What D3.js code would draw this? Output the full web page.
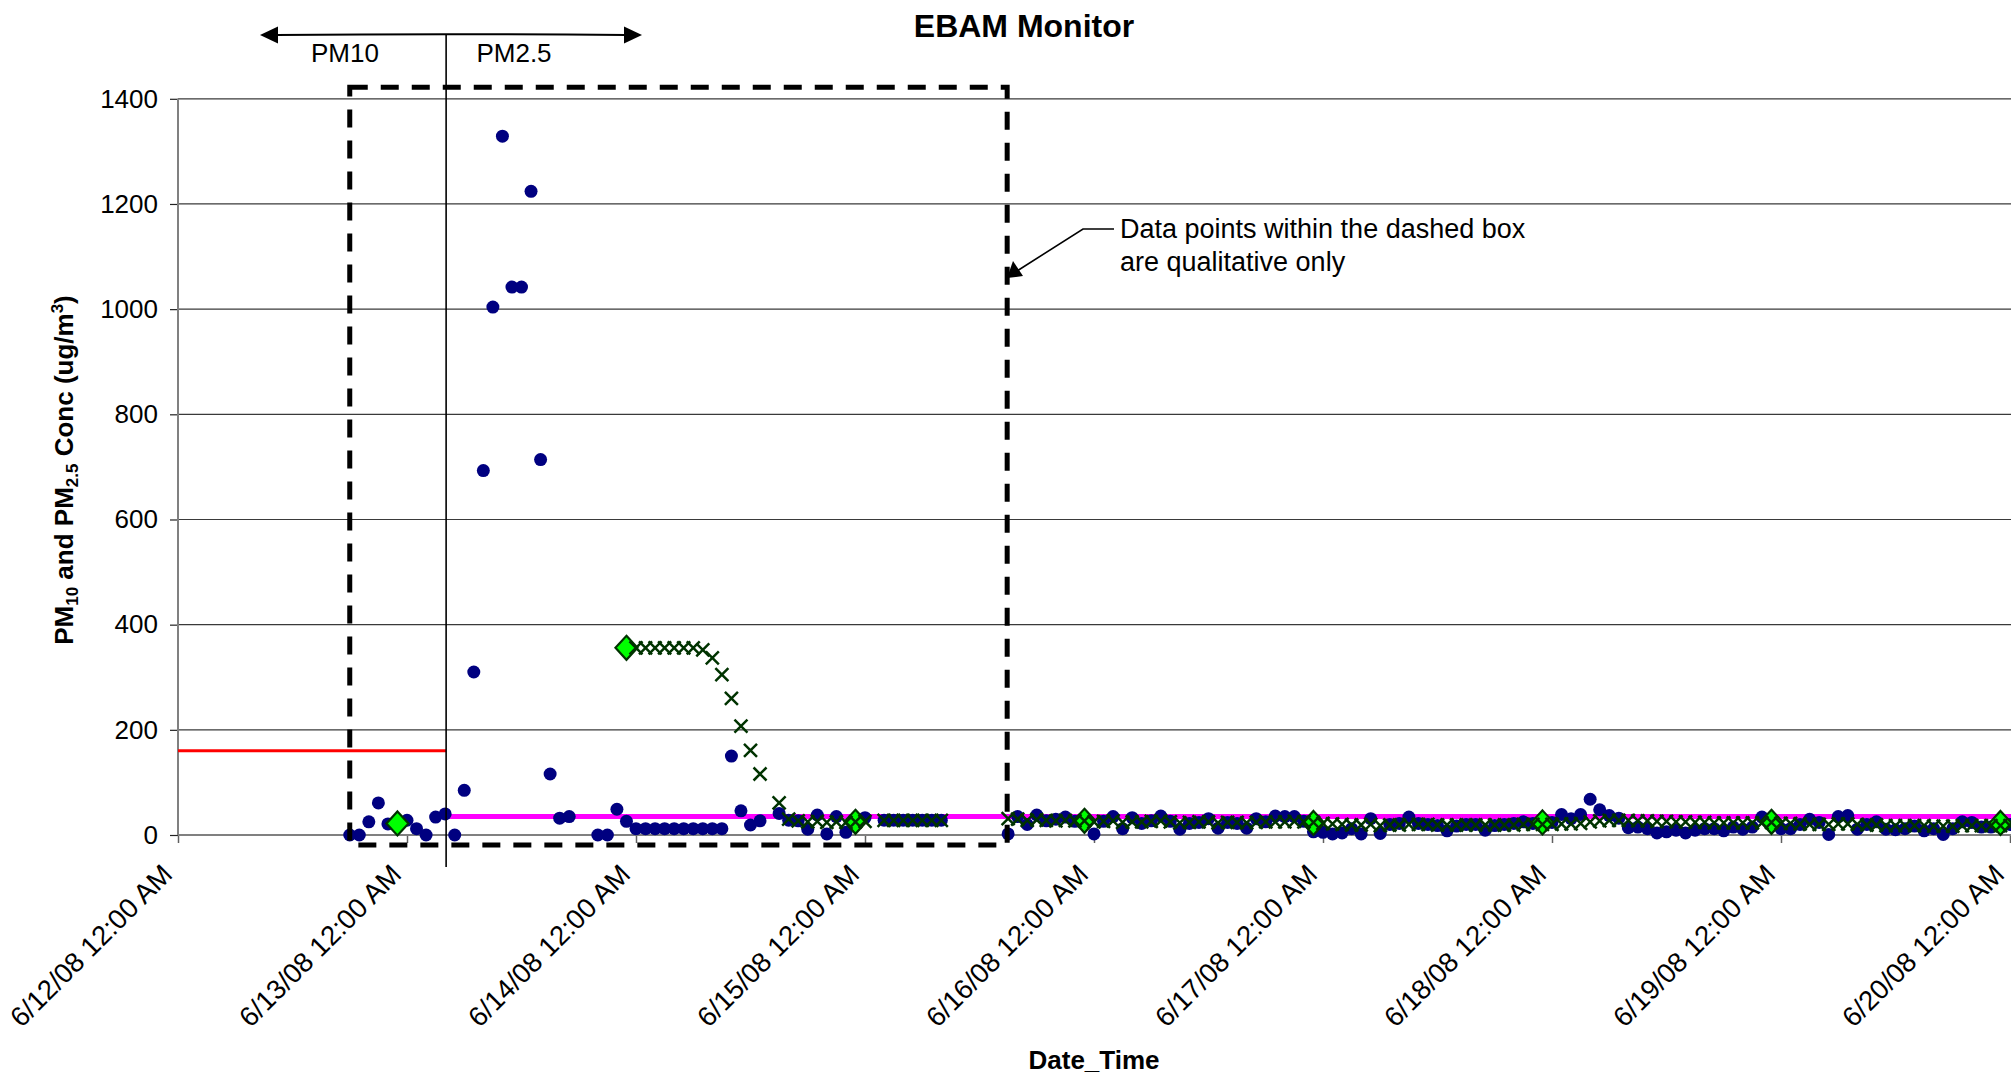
<!DOCTYPE html>
<html><head><meta charset="utf-8">
<script src="https://cdn.jsdelivr.net/npm/d3@7"></script>
<style>
html,body{margin:0;padding:0;background:#fff;}
svg{display:block;font-family:"Liberation Sans",Arial,Helvetica,sans-serif;}
</style></head><body>
<svg id="chart" width="2011" height="1078"></svg>
<script>
// ---------------- data ----------------
const chartTitle = "EBAM Monitor";
const xTickLabels = ["6/12/08 12:00 AM","6/13/08 12:00 AM","6/14/08 12:00 AM","6/15/08 12:00 AM",
  "6/16/08 12:00 AM","6/17/08 12:00 AM","6/18/08 12:00 AM","6/19/08 12:00 AM","6/20/08 12:00 AM"];
const xTickDays = [12,13,14,15,16,17,18,19,20];
const yTicks = [0,200,400,600,800,1000,1200,1400];

// hourly concentrations (blue dots), first value at hour 18 after 6/12/08 00:00
const pmStartHour = 18;
const pmValues = [
  0,0,25,61,21,20,28,12,0,34,40,            // h18-28 (PM10)
  0,85,310,693,1004,1329,1042,1042,1224,714,116,32,35,null,null,0,0,49,26, // h29-47
  12,12,12,12,12,12,12,12,12,12,            // h48-57
  150,46,19,27,null,41,28,27,11,38,2,35,5,22,33,null, // h58-73
  28,28,28,28,28,28,28,                     // h74-80
  null,null,null,null,null,null,            // h81-86
  2,35,20,38,27,30,34,26,22,2,26,35,12,33,22,27,36,26,11,22,24,31,13,24,22,13,31,25,36,35,35,26, // h87-118
  6,5,2,4,12,2,31,3,20,22,34,22,20,18,8,17,20,20,9,18,20,22,25,22,20,24, // h119-144
  39,31,39,68,48,37,32,14,15,12,4,6,9,4,9,12,12,8,15,11,15,34,20,12,12,20,30,24,1,35,37, // h145-175
  11,20,25,11,10,12,17,8,12,1,12,25,24,15,15,18,20 // h176-192
];

// 24-hr running average (x markers), first value at hour 48
const avgStartHour = 48;
const avgValues = [
  356,356,356,356,356,356,356,352,337,305,260,207,161,116,null,61, // h48-63
  30,27,25,26,24,25,24,25,26,null,                                   // h64-73
  28,28,28,28,28,28,28,                                              // h74-80
  null,null,null,null,null,null,                                     // h81-86
  31,30,28,29,28,27,28,27,27,25,26,27,24,25,25,26,27,25,23,24,25,25,23,24,24,23,24,25,25,25,26,25, // h87-118
  24,22,21,20,19,19,20,18,19,19,20,20,20,19,19,19,19,19,19,19,19,19,20,20,20,20, // h119-144
  21,21,22,25,27,28,28,28,27,27,26,26,25,25,24,24,23,23,23,23,23,23,24,22,22,21,20,20,20,21,21, // h145-175
  20,19,19,18,18,18,18,18,17,17,17,18,18,18,18,18,18 // h176-192
];

// daily averages (green diamonds)
const dailyHours = [23,47,71,95,119,143,167,191];
const dailyValues = [22,356,25,27,23,24,25,23];

const pm10Standard = 160;
const pm25Standard = 35;
const dividerHour = 28.1;
const boxHours = [18.0, 86.9];
const boxValues = [1422, -19];
const annotationLines = ["Data points within the dashed box","are qualitative only"];

// ---------------- chart ----------------
const svg = d3.select("#chart");
const W = 2011, H = 1078;
svg.append("rect").attr("width",W).attr("height",H).attr("fill","#fff");

const t0 = new Date(2008,5,12,0,0,0).getTime();
const hourDate = h => new Date(t0 + h*3600e3);
const x = d3.scaleTime().domain([hourDate(0), hourDate(192)]).range([178, 2010]);
const y = d3.scaleLinear().domain([0,1400]).range([835, 98.8]);
const X = h => x(hourDate(h));

// gridlines
svg.append("g").selectAll("line").data(yTicks).join("line")
  .attr("x1",178).attr("x2",W).attr("y1",d=>y(d)).attr("y2",d=>y(d))
  .attr("stroke","#3a3a3a").attr("stroke-width",1.2);

// y axis
const yAxis = svg.append("g").attr("transform","translate(178,0)")
  .call(d3.axisLeft(y).tickValues(yTicks).tickSize(8).tickPadding(12).tickFormat(d3.format("d")));
yAxis.select(".domain").remove();
yAxis.selectAll(".tick line").attr("stroke","#222").attr("stroke-width",1.2);
yAxis.selectAll(".tick text").attr("font-size",26).attr("fill","#000")
  .attr("font-family","'Liberation Sans',Arial,sans-serif");
svg.append("line").attr("x1",178).attr("x2",178).attr("y1",y(1400)).attr("y2",y(0))
  .attr("stroke","#808080").attr("stroke-width",2);

// x axis
const tickDates = xTickDays.map(d=>new Date(2008,5,d,0,0,0));
const xAxis = svg.append("g").attr("transform","translate(0,835)")
  .call(d3.axisBottom(x).tickValues(tickDates).tickSize(8).tickFormat(""));
xAxis.select(".domain").remove();
xAxis.selectAll(".tick line").attr("stroke","#606060").attr("stroke-width",1.5);
svg.append("line").attr("x1",178).attr("x2",W).attr("y1",y(0)).attr("y2",y(0))
  .attr("stroke","#808080").attr("stroke-width",2);
svg.append("g").selectAll("text").data(tickDates).join("text")
  .attr("transform",(d)=>`translate(${x(d)-4},876) rotate(-45)`)
  .attr("text-anchor","end").attr("font-size",27.5).attr("fill","#000")
  .text((d,i)=>xTickLabels[i]);

// standards lines
svg.append("line").attr("x1",X(0)).attr("x2",X(dividerHour))
  .attr("y1",y(pm10Standard)).attr("y2",y(pm10Standard))
  .attr("stroke","#ff0000").attr("stroke-width",3);
svg.append("line").attr("x1",X(dividerHour)).attr("x2",W)
  .attr("y1",y(pm25Standard)).attr("y2",y(pm25Standard))
  .attr("stroke","#ff00ff").attr("stroke-width",5);

// blue dots
const pmData = pmValues.map((v,i)=>({h:pmStartHour+i, v})).filter(d=>d.v!==null);
svg.append("g").selectAll("circle").data(pmData).join("circle")
  .attr("cx",d=>X(d.h)).attr("cy",d=>y(d.v)).attr("r",6.5).attr("fill","#000080");

// diamonds
const dData = dailyHours.map((h,i)=>({h, v:dailyValues[i]}));
svg.append("g").selectAll("path").data(dData).join("path")
  .attr("transform",d=>`translate(${X(d.h)},${y(d.v)})`)
  .attr("d","M0,-12L11,0L0,12L-11,0Z")
  .attr("fill","#00ff00").attr("stroke","#003300").attr("stroke-width",2.2);

// x markers
const aData = avgValues.map((v,i)=>({h:avgStartHour+i, v})).filter(d=>d.v!==null);
svg.append("g").selectAll("path").data(aData).join("path")
  .attr("transform",d=>`translate(${X(d.h)},${y(d.v)})`)
  .attr("d","M-6.5,-6.5L6.5,6.5M-6.5,6.5L6.5,-6.5")
  .attr("fill","none").attr("stroke","#003300").attr("stroke-width",2.5);

// PM10 / PM2.5 divider + arrow
const divX = X(dividerHour);
svg.append("line").attr("x1",divX).attr("x2",divX).attr("y1",35).attr("y2",867)
  .attr("stroke","#000").attr("stroke-width",1.6);
const aL = 260, aR = 642, aY = 35;
svg.append("path").attr("d",`M${aL+16},${aY}Q${divX},${aY-1.5} ${aR-16},${aY}`)
  .attr("fill","none").attr("stroke","#000").attr("stroke-width",2);
svg.append("path").attr("d",`M${aL},${aY}L${aL+18},${aY-8.5}L${aL+18},${aY+8.5}Z`).attr("fill","#000");
svg.append("path").attr("d",`M${aR},${aY}L${aR-18},${aY-8.5}L${aR-18},${aY+8.5}Z`).attr("fill","#000");
svg.append("text").attr("x",345).attr("y",62).attr("text-anchor","middle").attr("font-size",26).text("PM10");
svg.append("text").attr("x",514).attr("y",62).attr("text-anchor","middle").attr("font-size",26).text("PM2.5");

// dashed box
const bx0 = X(boxHours[0]), bx1 = X(boxHours[1]), by0 = y(boxValues[0]), by1 = y(boxValues[1]);
svg.append("path").attr("d",`M${bx0},${by0}H${bx1}V${by1}H${bx0}Z`)
  .attr("fill","none").attr("stroke","#000").attr("stroke-width",5)
  .attr("stroke-dasharray","18,13");

// annotation
svg.append("g").selectAll("text").data(annotationLines).join("text")
  .attr("x",1120).attr("y",(d,i)=>238+i*33).attr("font-size",27).attr("fill","#000").text(d=>d);
svg.append("path").attr("d","M1114,229H1083L1017,271").attr("fill","none").attr("stroke","#000").attr("stroke-width",1.6);
svg.append("path").attr("d","M1007,278L1013,261L1023,276Z").attr("fill","#000");

// titles
svg.append("text").attr("x",1024).attr("y",37).attr("text-anchor","middle")
  .attr("font-size",32).attr("font-weight","bold").text(chartTitle);
svg.append("text").attr("x",1094).attr("y",1069).attr("text-anchor","middle")
  .attr("font-size",26).attr("font-weight","bold").text("Date_Time");

const yt = svg.append("text").attr("transform","translate(73,470) rotate(-90)")
  .attr("text-anchor","middle").attr("font-size",26).attr("font-weight","bold");
yt.append("tspan").text("PM");
yt.append("tspan").attr("dy",5).attr("font-size",17).text("10");
yt.append("tspan").attr("dy",-5).text(" and PM");
yt.append("tspan").attr("dy",5).attr("font-size",17).text("2.5");
yt.append("tspan").attr("dy",-5).text(" Conc (ug/m");
yt.append("tspan").attr("dy",-10).attr("font-size",17).text("3");
yt.append("tspan").attr("dy",10).text(")");
</script>
</body></html>
